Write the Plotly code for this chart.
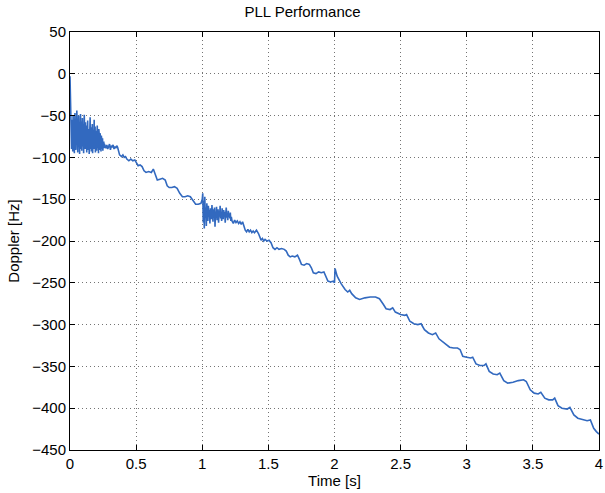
import numpy as np
import plotly.graph_objects as go

# ---- data ----
# noisy acquisition segment 0 .. 0.26 s (values in Hz, evenly sampled)
noise1_span = [0.0, 0.26]
noise1_vals = [-3, -28, -52, -78, -60, -90, -55, -82, -68, -93,
               -50, -76, -88, -58, -95, -64, -47, -85, -72, -91,
               -56, -80, -44, -88, -66, -94, -59, -79, -50, -86,
               -70, -96, -62, -83, -48, -90, -74, -57, -92, -67,
               -53, -87, -78, -60, -95, -71, -49, -84, -65, -90,
               -58, -88, -75, -62, -94, -70, -80, -56, -91, -66,
               -85, -73, -96, -61, -82, -52, -90, -77, -64, -93,
               -69, -86, -60, -95, -74, -82, -67, -90, -55, -88,
               -78, -63, -94, -72, -85, -68, -92, -76, -62, -89,
               -80, -70, -95, -66, -84, -75, -91, -71, -86, -78,
               -93, -74, -88, -80, -90, -77, -92, -83, -86, -81,
               -89, -84]
noise2_span = [0.265, 0.36]
noise2_vals = [-86, -89, -85, -90, -87, -84, -91, -86, -88, -85,
               -90, -87, -89, -86, -88]

steps1_t = [0.365, 0.375, 0.39, 0.40, 0.41, 0.42, 0.43, 0.445, 0.46, 0.475,
            0.49, 0.50, 0.515, 0.53, 0.545, 0.56, 0.575, 0.595, 0.615, 0.63,
            0.645, 0.66, 0.68, 0.70, 0.72, 0.735, 0.75, 0.77, 0.79, 0.81,
            0.83, 0.85, 0.87, 0.89, 0.91, 0.93, 0.95, 0.97, 0.99]
steps1_f = [-92, -97, -99, -97, -100, -99, -102, -104, -102, -104,
            -103, -106, -110, -109, -111, -116, -118, -117, -118, -114,
            -122, -127, -126, -125, -127, -134, -136, -136, -135, -137,
            -143, -147, -147, -146, -147, -152, -156, -156, -155]

noise3_span = [1.0, 1.22]
noise3_vals = [-150, -143, -178, -152, -185, -147, -172, -160, -182, -155,
               -168, -176, -158, -171, -163, -179, -161, -169, -174, -157,
               -166, -177, -162, -172, -160, -183, -165, -170, -159, -175,
               -167, -162, -178, -164, -171, -158, -173, -166, -176, -161,
               -169, -174, -163, -170, -165, -178, -168, -160, -172, -167,
               -175, -164, -170, -168, -173, -166, -176, -171]

steps2_t = [1.225, 1.235, 1.245, 1.255, 1.265, 1.275, 1.285, 1.295, 1.305, 1.315,
            1.325, 1.335, 1.345, 1.355, 1.365, 1.375, 1.385, 1.395, 1.41, 1.425,
            1.435, 1.445, 1.455, 1.465, 1.475, 1.49, 1.505, 1.52, 1.535, 1.55,
            1.565, 1.58, 1.60, 1.62, 1.635, 1.65, 1.665, 1.68, 1.70, 1.72,
            1.735, 1.75, 1.77, 1.79, 1.81, 1.825, 1.84, 1.86, 1.88, 1.90,
            1.92, 1.935, 1.95, 1.97, 1.99, 2.000, 2.004]
steps2_f = [-176, -179, -175, -178, -176, -179, -177, -180, -177, -182,
            -187, -189, -186, -189, -187, -190, -188, -190, -187, -191,
            -196, -199, -197, -200, -198, -200, -199, -202, -208, -210,
            -208, -210, -209, -210, -212, -217, -219, -218, -219, -217,
            -222, -228, -229, -227, -228, -232, -238, -239, -237, -238,
            -237, -242, -248, -249, -248, -250, -233]

track_t = [2.02, 2.05, 2.08, 2.10, 2.115, 2.13, 2.16, 2.19, 2.23, 2.27,
           2.31, 2.34, 2.37, 2.39, 2.42, 2.44, 2.46, 2.50, 2.53, 2.545,
           2.57, 2.60, 2.63, 2.655, 2.68, 2.71, 2.74, 2.765, 2.79, 2.83,
           2.87, 2.90, 2.93, 2.95, 2.97, 3.00, 3.03, 3.045, 3.07, 3.10,
           3.13, 3.145, 3.17, 3.20, 3.23, 3.25, 3.28, 3.31, 3.35, 3.39,
           3.43, 3.45, 3.48, 3.51, 3.54, 3.56, 3.59, 3.62, 3.65, 3.665,
           3.69, 3.72, 3.76, 3.78, 3.81, 3.84, 3.88, 3.91, 3.935, 3.96,
           3.98, 4.00]
track_f = [-242, -251, -258, -261, -259, -263, -268, -270, -268, -267,
           -267, -269, -276, -281, -282, -280, -285, -288, -289, -288,
           -296, -299, -300, -299, -306, -310, -312, -310, -317, -322,
           -327, -328, -328, -330, -338, -339, -340, -339, -347, -349,
           -349, -347, -356, -359, -360, -358, -367, -370, -369, -367,
           -366, -368, -378, -382, -383, -381, -388, -390, -390, -388,
           -397, -400, -401, -399, -408, -412, -414, -415, -414, -424,
           -428, -431]

x_ticks = [0, 0.5, 1, 1.5, 2, 2.5, 3, 3.5, 4]
x_labels = ["0", "0.5", "1", "1.5", "2", "2.5", "3", "3.5", "4"]
y_ticks = [50, 0, -50, -100, -150, -200, -250, -300, -350, -400, -450]

# ---- assemble the trace ----
t = np.concatenate([
    np.linspace(noise1_span[0], noise1_span[1], len(noise1_vals)),
    np.linspace(noise2_span[0], noise2_span[1], len(noise2_vals)),
    np.array(steps1_t),
    np.linspace(noise3_span[0], noise3_span[1], len(noise3_vals)),
    np.array(steps2_t),
    np.array(track_t),
])
f = np.concatenate([noise1_vals, noise2_vals, steps1_f, noise3_vals, steps2_f, track_f])

fig = go.Figure()
fig.add_trace(go.Scatter(x=t, y=f, mode="lines",
                         line=dict(color="#3269bf", width=1.6),
                         showlegend=False, hoverinfo="skip"))

font_family = "Liberation Sans, Arial, sans-serif"
axis_common = dict(
    showline=True, linecolor="black", linewidth=1, mirror="ticks",
    ticks="inside", ticklen=5, tickcolor="black",
    showgrid=True, gridcolor="rgba(70,70,70,0.75)", griddash="1px,3px", gridwidth=1,
    zeroline=False,
    tickfont=dict(family=font_family, size=15, color="black"),
    ticklabeloverflow="allow",
)

fig.update_layout(
    width=605, height=493,
    margin=dict(l=70, r=2, t=32, b=43),
    paper_bgcolor="white", plot_bgcolor="white",
    title=dict(text="PLL Performance", x=0.5, xanchor="center",
               y=0.977, yanchor="middle",
               font=dict(family=font_family, size=15, color="black")),
    xaxis=dict(range=[0, 4], tickvals=x_ticks, ticktext=x_labels,
               title=dict(text="Time [s]", standoff=0,
                          font=dict(family=font_family, size=15, color="black")),
               **axis_common),
    yaxis=dict(range=[-450, 50], tickvals=y_ticks,
               title=dict(text="Doppler [Hz]", standoff=8,
                          font=dict(family=font_family, size=15, color="black")),
               **axis_common),
)

fig.write_html("out.html")
